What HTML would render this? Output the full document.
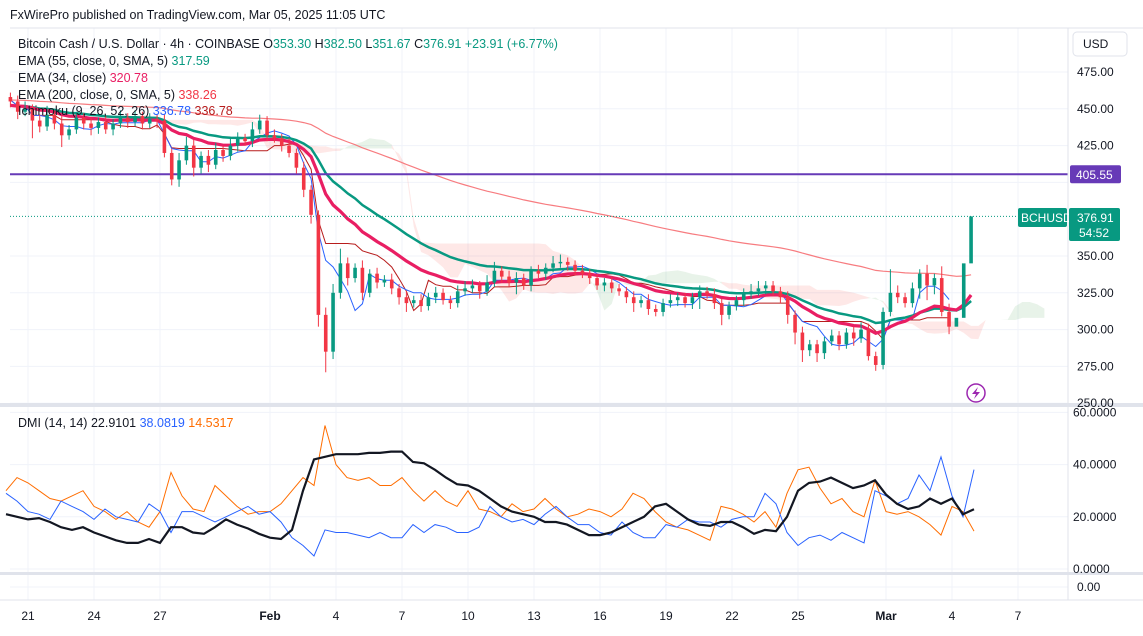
<!DOCTYPE html>
<html><head><meta charset="utf-8"><style>
body{margin:0;background:#fff;font-family:"Liberation Sans",sans-serif}
svg text{font-family:"Liberation Sans",sans-serif}
</style></head><body>
<svg id="chart" width="1143" height="631" xmlns="http://www.w3.org/2000/svg">
<rect width="1143" height="631" fill="#fff"/>
<text x="10" y="19" font-size="12.5" fill="#131722">FxWirePro published on TradingView.com, Mar 05, 2025 11:05 UTC</text>
<g id="grid"></g>
<g id="cloud"></g>
<g id="lines"></g>
<g id="candles"></g>
<g id="dmi"></g>
<g id="axes"></g>
<g id="overlay"></g>
</svg>
<script>
// ---- data (8h candles starting Jan 20 ~05:00) ----
const closes=[455,448,450, 442,438,446, 440,432,436, 444,440,437, 441,436,440, 444,441,445, 440,443,442,
420,402,415, 425,410,418, 412,422,418, 425,430,428, 436,442,432, 430,425,420, 410,395,378,
310,285,325, 345,335,342, 325,338,332, 334,328,322, 318,320,316, 322,325,320, 318,326,328,
330,326,332, 340,336,332, 335,330,340, 338,342,345, 346,344,340, 338,335,330, 332,328,326,
322,318,320, 314,312,318, 320,322,318, 322,326,324, 318,310,316, 320,324,326, 328,330,326,
322,310,298, 286,290,284, 292,296,290, 298,294,300, 282,276,312, 325,322,318, 328,338,330,
335,312,302, 308,345,376.91];
const hiWick=[3,4,5, 3,4,6, 3,5,3, 4,3,4, 3,4,3, 5,3,4, 3,4,3, 4,3,5, 6,4,3, 4,5,3, 6,4,3, 5,4,3, 4,3,5, 3,4,3,
3,5,6, 10,4,3, 5,3,4, 3,4,3, 4,3,4, 3,4,3, 3,4,5, 4,3,5, 6,3,4, 4,3,3, 4,3,5, 5,3,3, 4,3,3, 3,4,3,
3,4,3, 4,3,3, 4,3,3, 3,4,3, 4,3,3, 3,4,5, 5,3,3, 3,4,3, 4,3,3, 3,4,3, 3,4,5, 4,3,3, 16,5,3,
4,3,6, 3,8,5.59];
const loWick=[4,5,3, 12,4,3, 4,8,3, 3,4,5, 4,3,4, 3,4,3, 4,3,5, 3,4,5, 3,6,4, 5,3,4, 3,4,3, 4,3,4, 3,4,3, 4,5,6,
8,14,5, 4,5,3, 5,3,4, 3,4,5, 6,3,4, 3,4,3, 4,3,3, 3,5,3, 3,4,3, 8,3,4, 3,4,3, 3,4,3, 3,4,3, 4,3,3,
4,6,3, 4,3,3, 3,4,3, 4,8,3, 4,7,3, 3,4,3, 3,4,3, 4,6,8, 8,4,6, 4,3,4, 3,5,3, 3,4,3, 3,4,3,
3,7,10, 6,3,5.1];
const open0=458;
// DMI, one point per half day from Jan 20 00:00
const adx=[21,20, 19,19.5, 18,16, 15,16, 14,12.5, 11,10, 10,11.5, 10,16, 16,14, 13.5,16, 19,17, 15.5,13.5, 12,11.5, 15,30,
42,43, 44,44, 44,44.5, 44.5,45, 45,41, 40.5,38, 35,32.5, 32,30, 27,24, 22,21, 20,18, 18,17, 15,13, 13,14, 16,18,
20,24, 25,22, 19,17, 16.5,18, 18,16, 13.5,15, 14.5,20, 30,33, 33.5,35, 33,31, 32,34, 28.5,25, 23,24, 27,25, 27,21, 22.91];
const plusDI=[29,26, 22,21, 19,26, 24,22, 19,23, 20,19, 18,25, 22,14, 22,22, 20,18, 20,22, 24,21, 22,18, 12,9,
5,15, 14,14, 13,12, 14,12, 12,17, 14,17, 16,14, 14,16, 24,20, 18,19, 17,21, 24,20, 17,17, 14,13, 18,14,
12,12, 17,16, 19,18, 18,16, 19,20, 20,29, 25,14, 9,12, 13,11, 14,12, 10,30, 28,25, 27,36, 30,43, 28,20, 38.08];
const minusDI=[30,35, 33,30, 27,26, 28,30, 24,22, 19,22, 18,16, 22,37, 28,23, 22,32, 28,24, 21,22, 22,25, 30,35,
32,55, 40,35, 34,35, 32,32, 35,30, 26,30, 26,24, 30,23, 22,20, 25,22, 23,27, 23,20, 21,23, 22,20, 23,29,
27,22, 18,16, 15,13, 11,24, 23,21, 18,22, 16,29, 38,39, 31,25, 27,22, 20,34, 22,21, 22,20, 17,13, 24,22, 14.53];
const dayTicks=[{d:0,l:"21"},{d:3,l:"24"},{d:6,l:"27"},{d:11,l:"Feb",b:1},{d:14,l:"4"},{d:17,l:"7"},{d:20,l:"10"},{d:23,l:"13"},{d:26,l:"16"},{d:29,l:"19"},{d:32,l:"22"},{d:35,l:"25"},{d:39,l:"Mar",b:1},{d:42,l:"4"},{d:45,l:"7"}];
const priceTicks=[475,450,425,400,350,325,300,275,250];
const dmiTicks=[60,40,20,0];

// ---- axes ----
const NS="http://www.w3.org/2000/svg";
const PR=1068;
const xDay=d=>28+22*d;
const xCandle=i=>xDay(-0.8+i/3);
const yP=p=>72+(475-p)*1.472;
const yD=v=>569-v*2.61;
function el(tag,attrs,parent){const e=document.createElementNS(NS,tag);for(const k in attrs)e.setAttribute(k,attrs[k]);parent.appendChild(e);return e;}
const G=id=>document.getElementById(id);

// grid
const grid=G('grid');
for(const t of dayTicks){const g=el('line',{x1:xDay(t.d),x2:xDay(t.d),y1:28,y2:600,stroke:'#f0f3fa'},grid);

}
for(const p of priceTicks){const g=el('line',{x1:10,x2:PR,y1:yP(p),y2:yP(p),stroke:'#f0f3fa'},grid);

}
for(const v of dmiTicks){const g=el('line',{x1:10,x2:PR,y1:yD(v),y2:yD(v),stroke:'#f0f3fa'},grid);

}
el('line',{x1:10,x2:PR,y1:587,y2:587,stroke:'#f0f3fa'},grid);

// candles
const N=closes.length;
const opens=closes.map((c,i)=>i?closes[i-1]:open0);
const highs=closes.map((c,i)=>Math.max(c,opens[i])+hiWick[i]);
const lows=closes.map((c,i)=>Math.min(c,opens[i])-loWick[i]);
const cg=G('candles');
for(let i=0;i<N;i++){
 const up=closes[i]>=opens[i],col=up?'#089981':'#f23645',x=xCandle(i);
 const w=el('line',{x1:x,x2:x,y1:yP(highs[i]),y2:yP(lows[i]),stroke:col,'stroke-width':1},cg);
 
 
 const t=Math.min(yP(opens[i]),yP(closes[i])),h=Math.max(1,Math.abs(yP(opens[i])-yP(closes[i])));
 const b=el('rect',{x:x-1.8,y:t,width:3.6,height:h,fill:col},cg);
 
 
}
// indicators
function ema(period,seed){let e=seed;return closes.map(c=>e=e+(c-e)*2/(period+1));}
const e34=ema(17,452),e55=ema(28,452),e200=ema(95,456);
function mid(n,i){let h=-1e9,l=1e9;for(let k=Math.max(0,i-n+1);k<=i;k++){h=Math.max(h,highs[k]);l=Math.min(l,lows[k]);}return (h+l)/2;}
const conv=closes.map((c,i)=>mid(5,i)),base=closes.map((c,i)=>mid(13,i));
const spanA=conv.map((c,i)=>(c+base[i])/2),spanB=closes.map((c,i)=>mid(26,i));
const shift=13;
function path(arr,xf,yf,start){return arr.map((v,i)=>(i?'L':'M')+xf(i+(start||0)).toFixed(1)+' '+yf(v).toFixed(1)).join(' ');}
const cl=G('cloud');
for(let i=0;i<N-1;i++){
 const a1=spanA[i],a2=spanA[i+1],b1=spanB[i],b2=spanB[i+1];
 const x1=xCandle(i+shift),x2=xCandle(i+shift+1);
 const col=(a1+a2)>=(b1+b2)?'rgba(67,160,71,0.12)':'rgba(244,67,54,0.12)';
 const p=el('path',{d:`M${x1} ${yP(a1)} L${x2} ${yP(a2)} L${x2} ${yP(b2)} L${x1} ${yP(b1)} Z`,fill:col},cl);
 
 
}
const ln=G('lines');
const specs=[[e200,'#f77c80',1.2,'ema-200-line'],[base,'#b71c1c',1,'ichimoku-base-line'],[conv,'#2962ff',1,'ichimoku-conversion-line'],[e55,'#089981',2.5,'ema-55-line'],[e34,'#e91e63',3.2,'ema-34-line']];
for(const s of specs){const p=el('path',{d:path(s[0],xCandle,yP),fill:'none',stroke:s[1],'stroke-width':s[2]},ln);
 
 }
// horizontal lines
const h1=el('line',{x1:10,x2:PR,y1:yP(405.55),y2:yP(405.55),stroke:'#673ab7','stroke-width':2},ln);


const h2=el('line',{x1:10,x2:PR,y1:yP(376.91),y2:yP(376.91),stroke:'#089981','stroke-width':1,'stroke-dasharray':'1 2'},ln);



// DMI
const dg=G('dmi');
const xH=k=>xDay(-1+k*0.5);
const dspec=[[minusDI,'#ff6d00',1,'minus-di-line'],[plusDI,'#2962ff',1,'plus-di-line'],[adx,'#131722',2.2,'adx-line']];
for(const s of dspec){const p=el('path',{d:path(s[0],xH,yD),fill:'none',stroke:s[1],'stroke-width':s[2]},dg);
 
 }

// axes & labels
const ax=G('axes');
const ov=G('overlay');
function txt(x,y,s,attrs,name,inter,parent){const t=el('text',Object.assign({x:x,y:y,'font-size':12,fill:'#131722'},attrs||{}),parent||ax);t.textContent=s;
 
 return t;}
el('line',{x1:10,x2:1143,y1:28,y2:28,stroke:'#e0e3eb'},ax);
el('line',{x1:PR,x2:PR,y1:28,y2:600,stroke:'#e0e3eb'},ax);
el('rect',{x:0,y:403,width:1143,height:4,fill:'#e0e3eb'},ax);
el('rect',{x:0,y:572,width:1143,height:3,fill:'#e0e3eb'},ax);
el('line',{x1:0,x2:1143,y1:600,y2:600,stroke:'#e0e3eb'},ax);
for(const p of priceTicks){if(p===400)continue;txt(1077,yP(p)+4,p.toFixed(2),{},'price-tick-label');}
for(const v of dmiTicks)txt(1073,yD(v)+4,v.toFixed(4),{},'dmi-tick-label');
txt(1077,591,'0.00',{},'third-pane-tick-label');
for(const t of dayTicks)txt(xDay(t.d),620,t.l,{'text-anchor':'middle','font-weight':t.b?'bold':'normal'},'time-tick-label');
const ub=el('rect',{x:1073,y:32,width:54,height:24,rx:4,fill:'#fff',stroke:'#e0e3eb'},ax);


txt(1083,48,'USD',{},'currency-label',true);

// overlay legend & price labels
function otxt(x,y,parts,name){const t=el('text',{x:x,y:y,'font-size':12.5},ov);
 
 
 for(const [s,c] of parts){const sp=el('tspan',{fill:c},t);sp.textContent=s;}}
otxt(18,48,[['Bitcoin Cash / U.S. Dollar · 4h · COINBASE  ','#131722'],['O','#131722'],['353.30  ','#089981'],['H','#131722'],['382.50  ','#089981'],['L','#131722'],['351.67  ','#089981'],['C','#131722'],['376.91  +23.91 (+6.77%)','#089981']],'legend-main');
otxt(18,65,[['EMA (55, close, 0, SMA, 5)  ','#131722'],['317.59','#089981']],'legend-ema-55');
otxt(18,82,[['EMA (34, close)  ','#131722'],['320.78','#e91e63']],'legend-ema-34');
otxt(18,99,[['EMA (200, close, 0, SMA, 5)  ','#131722'],['338.26','#f23645']],'legend-ema-200');
otxt(18,115,[['Ichimoku (9, 26, 52, 26)  ','#131722'],['336.78  ','#2962ff'],['336.78','#b71c1c']],'legend-ichimoku');
otxt(18,427,[['DMI (14, 14)  ','#131722'],['22.9101  ','#131722'],['38.0819  ','#2962ff'],['14.5317','#ff6d00']],'legend-dmi');
el('rect',{x:1070,y:yP(405.55)-9,width:51,height:18,rx:2,fill:'#673ab7'},ov);
txt(1076,yP(405.55)+5,'405.55',{fill:'#fff'},'resistance-price-label',false,ov);
el('rect',{x:1018,y:208,width:49,height:19,rx:2,fill:'#089981'},ov);
txt(1021,222,'BCHUSD',{fill:'#fff'},'symbol-label',false,ov);
el('rect',{x:1069,y:208,width:51,height:33,rx:2,fill:'#089981'},ov);
txt(1077,222,'376.91',{fill:'#fff'},'last-price-label',false,ov);
txt(1079,237,'54:52',{fill:'#fff'},'countdown-label',false,ov);
const ic=el('circle',{cx:976,cy:393,r:9,fill:'#fff',stroke:'#9c27b0','stroke-width':1.5},ov);


el('path',{d:'M978 387 L972 394 L976 394 L974 399 L980 392 L976 392 Z',fill:'#9c27b0'},ov);
</script>
</body></html>
